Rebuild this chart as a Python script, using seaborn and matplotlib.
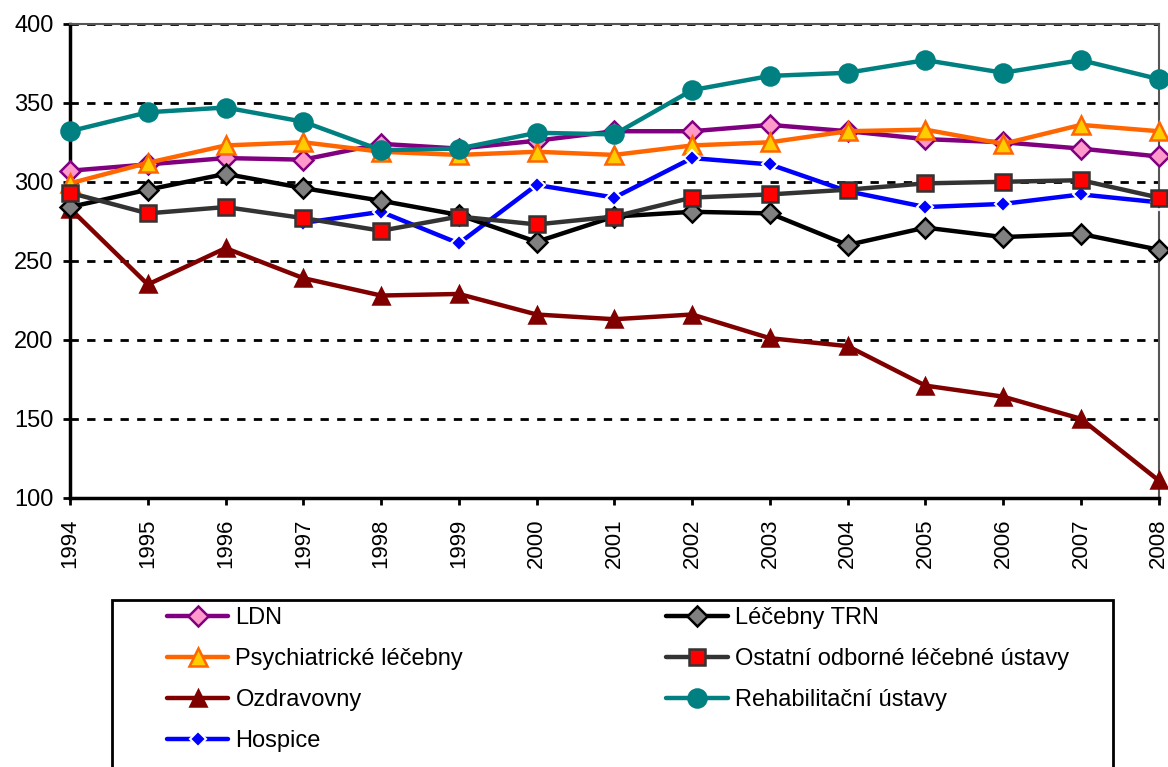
import numpy as np
import pandas as pd
import matplotlib
matplotlib.use("Agg")
import matplotlib.pyplot as plt
from matplotlib.patches import Rectangle
import seaborn as sns

# ── Data ────────────────────────────────────────────────────
years = list(range(1994, 2009))

ldn        = [307, 311, 315, 314, 324, 321, 326, 332, 332, 336, 332, 327, 325, 321, 316]
trn        = [284, 295, 305, 296, 288, 279, 262, 278, 281, 280, 260, 271, 265, 267, 257]
psych      = [299, 312, 323, 325, 319, 317, 319, 317, 323, 325, 332, 333, 324, 336, 332]
ostatni    = [293, 280, 284, 277, 269, 278, 273, 278, 290, 292, 295, 299, 300, 301, 290]
ozdrav     = [283, 235, 258, 239, 228, 229, 216, 213, 216, 201, 196, 171, 164, 150, 111]
rehab      = [332, 344, 347, 338, 320, 321, 331, 330, 358, 367, 369, 377, 369, 377, 365]
hospice    = [np.nan, np.nan, np.nan, 274, 281, 261, 298, 290, 315, 311, 294, 284, 286, 292, 287]

labels = ["LDN", "Psychiatrické léčebny", "Ozdravovny", "Hospice",
          "Léčebny TRN", "Ostatní odborné léčebné ústavy", "Rehabilitační ústavy"]

df = pd.DataFrame({
    "rok": years,
    "LDN": ldn,
    "Léčebny TRN": trn,
    "Psychiatrické léčebny": psych,
    "Ostatní odborné léčebné ústavy": ostatni,
    "Ozdravovny": ozdrav,
    "Rehabilitační ústavy": rehab,
    "Hospice": hospice,
})

# line colour, marker, face colour, edge colour, marker size
styles = {
    "LDN":                            ("#800080", "D", "#FF99CC", "#800080", 10),
    "Psychiatrické léčebny":          ("#FF6600", "^", "#FFCC00", "#FF6600", 13),
    "Ozdravovny":                     ("#800000", "^", "#800000", "#800000", 12),
    "Hospice":                        ("#0000FF", "D", "#0000FF", "#FFFFFF", 8),
    "Léčebny TRN":                    ("#000000", "D", "#808080", "#000000", 10),
    "Ostatní odborné léčebné ústavy": ("#333333", "s", "#FF0000", "#333333", 12),
    "Rehabilitační ústavy":           ("#008080", "o", "#008080", "#008080", 13),
}

sns.set_style("white")
plt.rcParams["font.family"] = ["Liberation Sans", "DejaVu Sans"]
plt.rcParams["text.color"] = "black"
plt.rcParams["xtick.color"] = "black"
plt.rcParams["ytick.color"] = "black"

fig = plt.figure(figsize=(11.68, 7.67), dpi=100)
ax = fig.add_axes([0.06, 0.351, 0.932, 0.618])

for name in labels:
    lc, mk, fc, ec, ms = styles[name]
    sub = df[["rok", name]].dropna()
    sns.lineplot(data=sub, x="rok", y=name, ax=ax, color=lc, lw=3.2,
                 marker=mk, markersize=ms, markerfacecolor=fc,
                 markeredgecolor=ec, markeredgewidth=1.8 if name != "Hospice" else 1.5,
                 label=name, errorbar=None, clip_on=False, zorder=3)

# ── Axes ─────────────────────────────────────────────────────
ax.set_xlim(1994, 2008)
ax.set_ylim(100, 400)
ax.set_xticks(years)
ax.set_xticklabels([str(y) for y in years], rotation=90, fontsize=16)
ax.set_yticks(range(100, 401, 50))
ax.set_yticklabels([str(v) for v in range(100, 401, 50)], fontsize=17)
ax.set_xlabel("")
ax.set_ylabel("")
ax.tick_params(axis="both", direction="out", length=5, width=2, colors="black",
               bottom=True, left=True)
ax.tick_params(axis="x", pad=10)
ax.tick_params(axis="y", pad=7)

ax.yaxis.grid(True, color="black", linestyle=(0, (3, 3)), lw=2)
ax.xaxis.grid(False)
ax.set_axisbelow(True)

for side in ["left", "bottom"]:
    ax.spines[side].set_color("black")
    ax.spines[side].set_linewidth(2.5)
for side in ["top", "right"]:
    ax.spines[side].set_color("#555555")
    ax.spines[side].set_linewidth(1.5)

# ── Legend (two columns, framed box running off the bottom) ──
handles, labs = ax.get_legend_handles_labels()
ax.get_legend().remove()

fig.patches.append(Rectangle((0.0959, -0.05), 0.857, 0.2677,
                             transform=fig.transFigure, fill=False,
                             edgecolor="black", lw=2))

leg = fig.legend(handles, labs, ncol=2, loc="upper left",
                 bbox_to_anchor=(0.143, 0.208),
                 bbox_transform=fig.transFigure,
                 fontsize=17, frameon=False, labelcolor="black",
                 handlelength=2.6, handletextpad=0.3, labelspacing=0.8,
                 borderpad=0.0, borderaxespad=0.0, columnspacing=8.6)

fig.savefig("out.png", dpi=100)
